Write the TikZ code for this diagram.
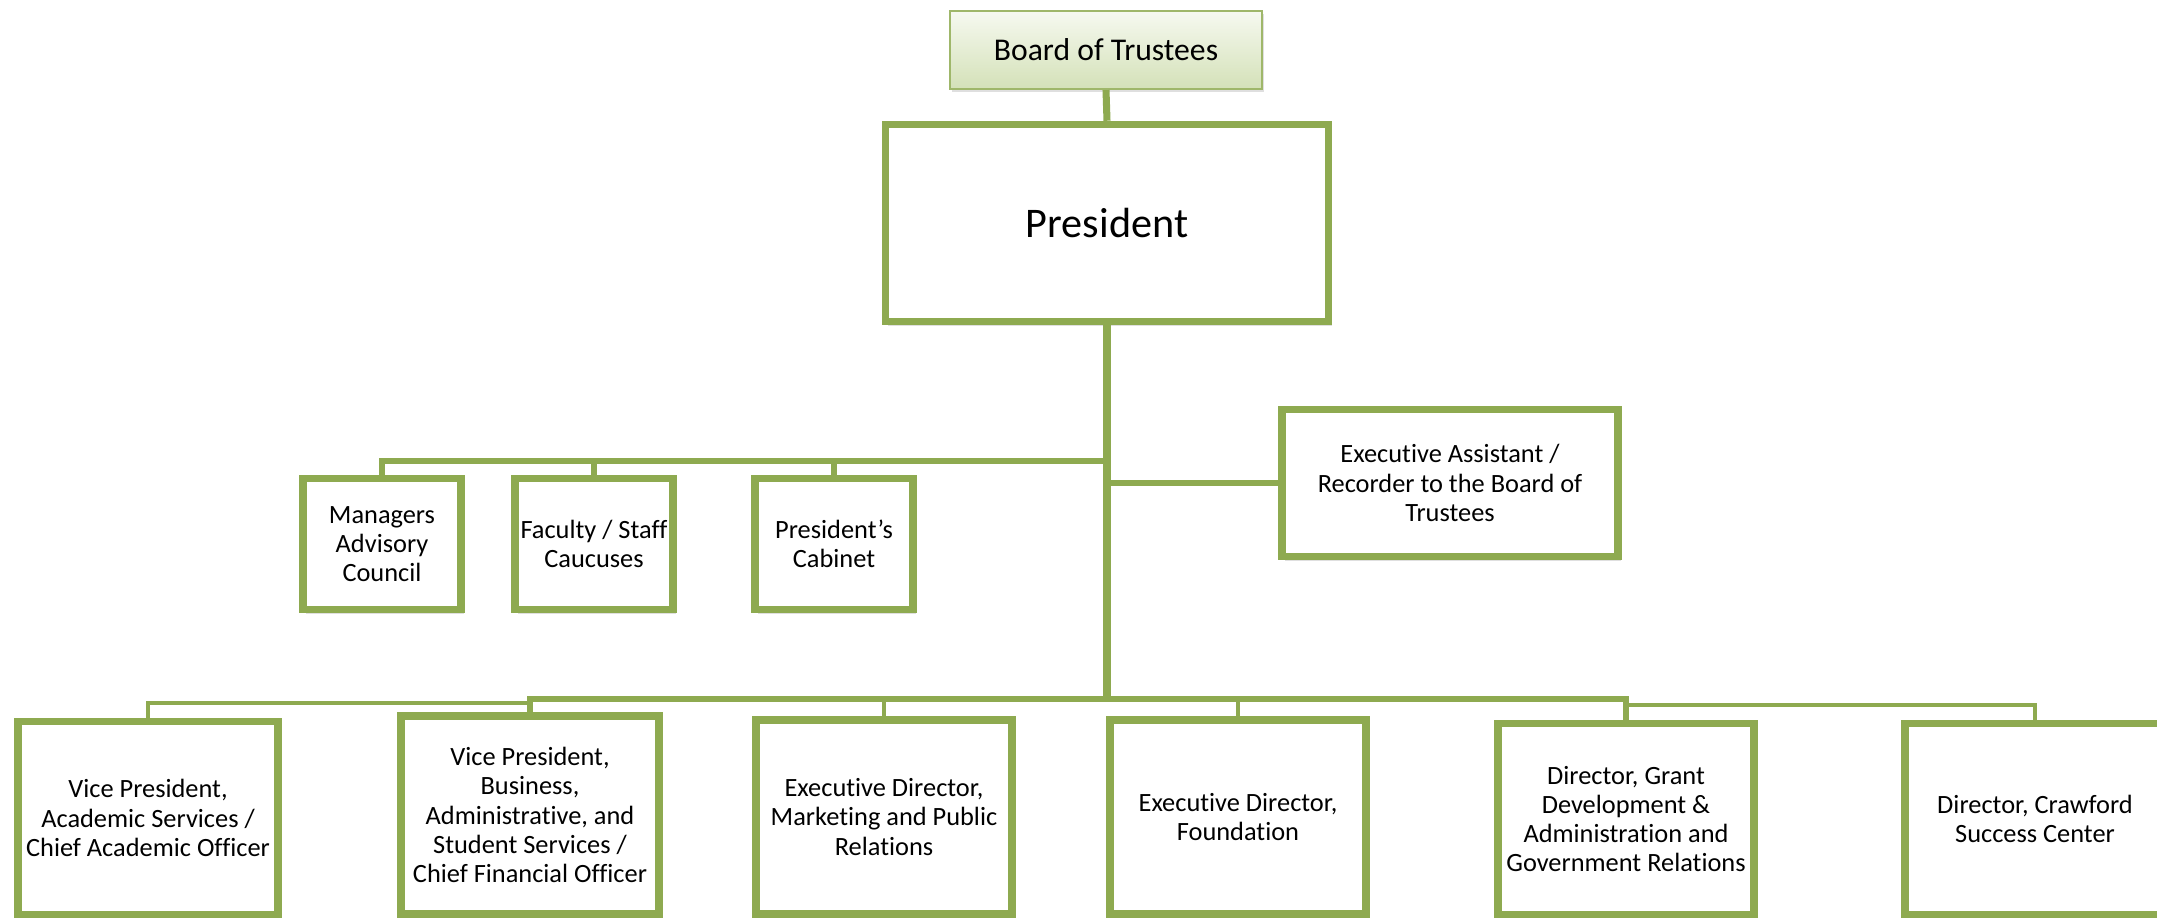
\documentclass[tikz,border=0pt]{standalone}
\usepackage{fontspec}
\setmainfont{Carlito}[RawFeature={-liga;-clig;-calt;-dlig}]
\usetikzlibrary{shadows}
\definecolor{orggreen}{HTML}{8EAA50}
\definecolor{boardtop}{HTML}{F6F9F0}
\definecolor{boardbot}{HTML}{D4E1B8}
\tikzset{
  unitbox/.style={draw=orggreen, line width=2.1pt, fill=white, align=center, inner sep=0pt,
    drop shadow={opacity=0.25, shadow xshift=0.03cm, shadow yshift=-0.04cm},
    font=\fontsize{7.5}{8.3}\selectfont},
  boardbox/.style={draw=orggreen!85, line width=0.6pt, top color=boardtop, bottom color=boardbot,
    align=center, inner sep=0pt, drop shadow={opacity=0.25, shadow xshift=0.02cm, shadow yshift=-0.03cm},
    font=\fontsize{9}{11}\selectfont},
  trunk/.style={draw=orggreen, line width=2pt},
  bus/.style={draw=orggreen, line width=1.7pt},
  thinbus/.style={draw=orggreen, line width=1pt},
}

\begin{document}
\begin{tikzpicture}[x=0.01cm, y=-0.01cm]
			%%%%% START %%%%%
			\useasboundingbox (0, 0) rectangle (2157, 918);
			
			\node[boardbox, minimum width=3.12cm, minimum height=0.78cm] (board) at (1106, 50) {Board of Trustees};
			\node[unitbox, minimum width=4.43cm, minimum height=1.97cm, font=\fontsize{12}{14}\selectfont] (pres) at (1107, 223) {President};
			
			\node[unitbox, minimum width=1.58cm, minimum height=1.31cm] (mac) at (382, 544) {Managers\\Advisory\\Council};
			\node[unitbox, minimum width=1.58cm, minimum height=1.31cm] (fsc) at (594, 544) {Faculty / Staff\\Caucuses};
			\node[unitbox, minimum width=1.58cm, minimum height=1.31cm] (cab) at (834, 544) {President's\\Cabinet};
			\node[unitbox, minimum width=3.36cm, minimum height=1.47cm] (exa) at (1450, 483) {Executive Assistant /\\Recorder to the Board of\\Trustees};
			
			\node[unitbox, minimum width=2.60cm, minimum height=1.93cm] (vpa) at (148, 818) {Vice President,\\Academic Services /\\Chief Academic Officer};
			\node[unitbox, minimum width=2.58cm, minimum height=1.98cm] (vpb) at (530, 815) {Vice President,\\Business,\\Administrative, and\\Student Services /\\Chief Financial Officer};
			\node[unitbox, minimum width=2.56cm, minimum height=1.94cm] (edm) at (884, 817) {Executive Director,\\Marketing and Public\\Relations};
			\node[unitbox, minimum width=2.56cm, minimum height=1.94cm] (edf) at (1238, 817) {Executive Director,\\Foundation};
			\node[unitbox, minimum width=2.56cm, minimum height=1.91cm] (dgr) at (1626, 819) {Director, Grant\\Development \&\\Administration and\\Government Relations};
			\node[unitbox, minimum width=2.60cm, minimum height=1.91cm] (dcr) at (2035, 819) {Director, Crawford\\Success Center};
			
			\coordinate (cbus) at (1107, 461);
			\coordinate (bbus) at (1107, 700);
			
			\draw[trunk] (board.south) -- (pres.north);
			\draw[trunk] (pres.south) -- (bbus);
			
			\draw[bus] (mac.north) |- (cbus);
			\draw[bus] (fsc.north) |- (cbus);
			\draw[bus] (cab.north) |- (cbus);
			\draw[bus] (exa.west) -- (exa.west -| pres.south);
			
			\draw[bus] (vpb.north) -- ++(0, -13) -| (dgr.north);
			\draw[thinbus] (vpa.north) -- ++(0, -15) -| (vpb.north);
			\draw[thinbus] (dgr.north) -- ++(0, -15) -| (dcr.north);
			\draw[thinbus] (edm.north) -- (edm.north |- bbus);
			\draw[thinbus] (edf.north) -- (edf.north |- bbus);
			%%%%% END %%%%%
\end{tikzpicture}
\end{document}
